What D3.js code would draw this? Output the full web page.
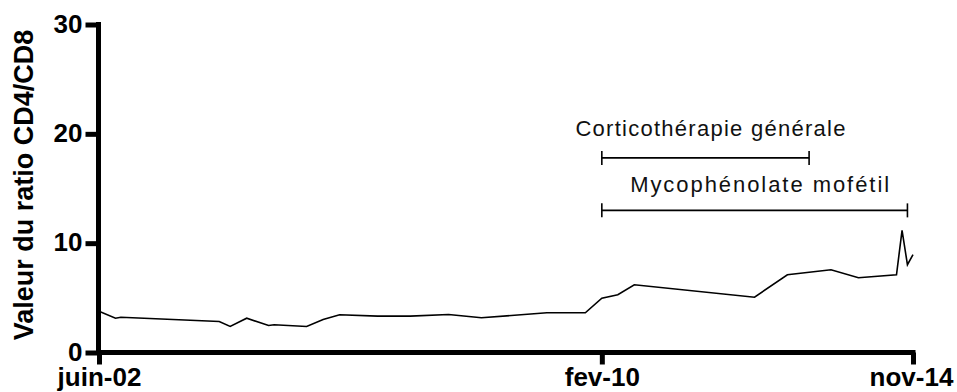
<!DOCTYPE html>
<html>
<head>
<meta charset="utf-8">
<script src="https://cdn.jsdelivr.net/npm/d3@7"></script>
<style>
  html, body { margin: 0; padding: 0; background: #fff; }
  svg { display: block; }
</style>
</head>
<body>
<svg id="chart" width="957" height="392"></svg>
<script>
// ---- data ----
const dates = ["2002-06","2002-09","2002-10","2004-04","2004-06","2004-09","2005-01","2005-02",
  "2005-08","2005-11","2006-02","2006-09","2007-03","2007-10","2008-04","2009-04","2009-11",
  "2010-02","2010-05","2010-08","2012-06","2012-12","2013-08","2014-01","2014-08","2014-09",
  "2014-10","2014-11"];
const ratios = [3.78,3.14,3.23,2.84,2.38,3.14,2.47,2.54,
  2.38,3.02,3.45,3.33,3.33,3.48,3.18,3.63,3.63,
  4.97,5.28,6.2,5.06,7.11,7.57,6.84,7.11,11.17,
  8.03,8.95];
const xTickDates = ["2002-06","2010-02","2014-11"];
const xTickLabels = ["juin-02","fev-10","nov-14"];
const yTicks = [0,10,20,30];
const treatmentNames = ["Corticothérapie générale","Mycophénolate mofétil"];
const treatmentStart = ["2010-02","2010-02"];
const treatmentEnd = ["2013-04","2014-10"];
const yTitle = "Valeur du ratio CD4/CD8";

// ---- layout ----
const parse = d3.timeParse("%Y-%m");
const svg = d3.select("#chart");
const x = d3.scaleTime().domain([parse("2002-06"), parse("2014-11")]).range([99, 913]);
const y = d3.scaleLinear().domain([0, 30]).range([352.5, 24.5]);
const axisFont = "'Liberation Sans', Arial, Helvetica, sans-serif";

// line
const pts = dates.map((d, i) => ({ t: parse(d), v: ratios[i] }));
svg.append("path")
  .datum(pts)
  .attr("fill", "none")
  .attr("stroke", "#000")
  .attr("stroke-width", 1.6)
  .attr("stroke-linejoin", "miter")
  .attr("d", d3.line().x(d => x(d.t)).y(d => y(d.v)));

// y axis
const gy = svg.append("g").attr("transform", "translate(98.5,0)")
  .call(d3.axisLeft(y).tickValues(yTicks).tickSize(13).tickPadding(3).tickFormat(d3.format("d")));
gy.select(".domain").attr("stroke", "#000").attr("stroke-width", 5)
  .attr("d", `M0,${y(30) - 2.5}V${y(0) + 2.5}`);
gy.selectAll(".tick line").attr("stroke", "#000").attr("stroke-width", 5);
gy.selectAll(".tick text")
  .attr("font-family", axisFont).attr("font-weight", "bold").attr("font-size", 26)
  .attr("fill", "#000").attr("dy", "0.3em");

// x axis
const gx = svg.append("g").attr("transform", "translate(0,352.5)")
  .call(d3.axisBottom(x).tickValues(xTickDates.map(parse)).tickSize(12).tickPadding(4)
    .tickFormat((d, i) => xTickLabels[i]));
gx.select(".domain").attr("stroke", "#000").attr("stroke-width", 5)
  .attr("d", `M96,0H${x(parse("2014-11")) + 2.5}`);
gx.selectAll(".tick line").attr("stroke", "#000").attr("stroke-width", 5);
gx.selectAll(".tick text")
  .attr("font-family", axisFont).attr("font-weight", "bold").attr("font-size", 26)
  .attr("fill", "#000").attr("dy", "0.68em");
// keep last label inside the frame
gx.selectAll(".tick text").filter((d, i) => i === 2).attr("dx", -2);

// y title
svg.append("text")
  .attr("transform", "translate(33,185) rotate(-90)")
  .attr("text-anchor", "middle")
  .attr("font-family", axisFont).attr("font-weight", "bold").attr("font-size", 27)
  .attr("fill", "#000")
  .text(yTitle);

// treatment bars
const barY = [y(17.8), y(13.0)];
const labelOffset = [22, 18];
const labelWidth = [270, 259];
const capH = 7;
treatmentNames.forEach((name, i) => {
  const x0 = x(parse(treatmentStart[i])), x1 = x(parse(treatmentEnd[i]));
  const g = svg.append("g").attr("stroke", "#000").attr("stroke-width", 1.6);
  g.append("line").attr("x1", x0).attr("x2", x1).attr("y1", barY[i]).attr("y2", barY[i]);
  g.append("line").attr("x1", x0).attr("x2", x0).attr("y1", barY[i] - capH).attr("y2", barY[i] + capH);
  g.append("line").attr("x1", x1).attr("x2", x1).attr("y1", barY[i] - capH).attr("y2", barY[i] + capH);
  svg.append("text")
    .attr("x", (x0 + x1) / 2 + 5)
    .attr("y", barY[i] - labelOffset[i])
    .attr("text-anchor", "middle")
    .attr("font-family", axisFont).attr("font-size", 22)
    .attr("textLength", labelWidth[i]).attr("lengthAdjust", "spacing")
    .attr("fill", "#111")
    .text(name);
});
</script>
</body>
</html>
